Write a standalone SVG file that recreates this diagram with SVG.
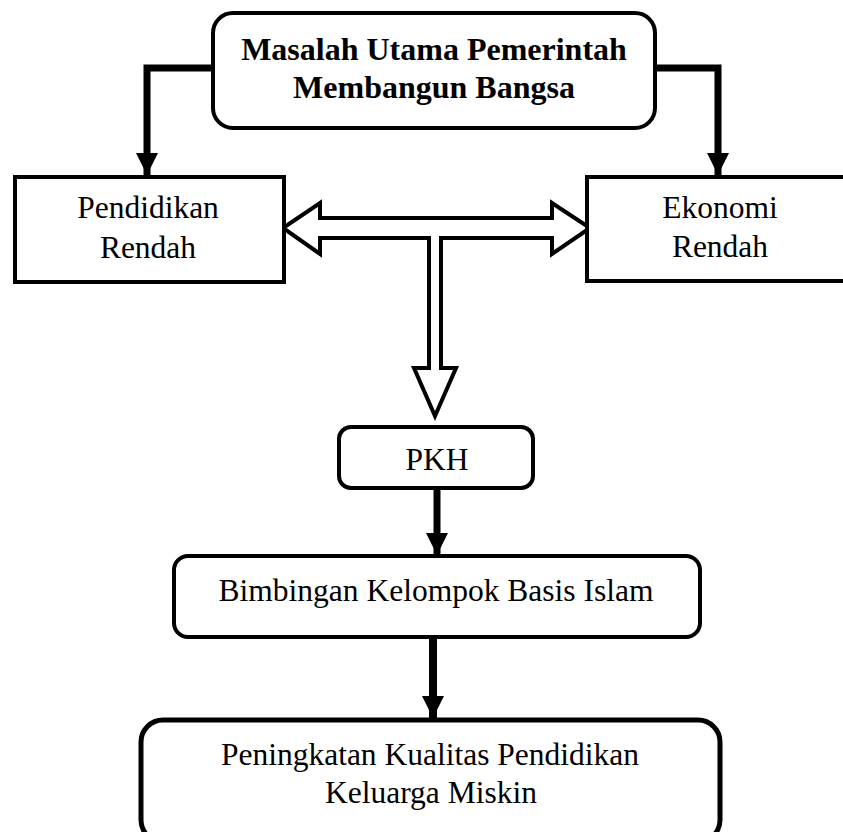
<svg xmlns="http://www.w3.org/2000/svg" width="843" height="832" viewBox="0 0 843 832">
<defs>
<style>
.box{fill:#fff;stroke:#000;stroke-width:4}
.t{font-family:"Liberation Serif","Times New Roman",serif;font-size:31.5px;fill:#000;text-anchor:middle}
.b{font-weight:bold;font-size:32px}
.thick{fill:none;stroke:#000;stroke-width:7}
.hollow{fill:#fff;stroke:#000;stroke-width:4;stroke-linejoin:miter}
</style>
<marker id="ah" markerUnits="userSpaceOnUse" markerWidth="24" markerHeight="22" refX="22" refY="11" orient="auto">
<path d="M0,0 L22,11 L0,22 Z" fill="#000"/>
</marker>
</defs>
<rect width="843" height="832" fill="#fff"/>
<g id="connectors">
<path class="thick" d="M215,68 H147 V175" marker-end="url(#ah)"/>
<path class="thick" d="M653,68 H718 V175" marker-end="url(#ah)"/>
<path class="thick" d="M437,488 V555" marker-end="url(#ah)"/>
<path class="thick" style="stroke-width:8" d="M433,637 V718" marker-end="url(#ah)"/>
<path class="hollow" d="M283,228 L320,203 L320,218 L552,218 L552,203 L590,228 L552,254 L552,238 L441,238 L441,368 L456,368 L435,416 L414,368 L429,368 L429,238 L320,238 L320,254 Z"/>
</g>
<g id="masalah">
<rect class="box" x="213" y="13" width="442" height="115" rx="20"/>
<text class="t b" x="434" y="60">Masalah Utama Pemerintah</text>
<text class="t b" x="434" y="98">Membangun Bangsa</text>
</g>
<g id="pendidikan">
<rect class="box" x="15" y="177" width="269" height="105"/>
<text class="t" x="148" y="218">Pendidikan</text>
<text class="t" x="148" y="258">Rendah</text>
</g>
<g id="ekonomi">
<rect class="box" x="587" y="177" width="270" height="104"/>
<text class="t" x="720" y="218">Ekonomi</text>
<text class="t" x="720" y="257">Rendah</text>
</g>
<g id="pkh">
<rect class="box" x="339" y="427" width="194" height="61" rx="12"/>
<text class="t" x="437" y="470">PKH</text>
</g>
<g id="bimbingan">
<rect class="box" x="174" y="556" width="526" height="81" rx="14"/>
<text class="t" x="436" y="601">Bimbingan Kelompok Basis Islam</text>
</g>
<g id="peningkatan">
<rect class="box" style="stroke-width:5" x="141" y="720" width="579" height="122" rx="22"/>
<text class="t" x="430" y="765">Peningkatan Kualitas Pendidikan</text>
<text class="t" x="431" y="803">Keluarga Miskin</text>
</g>
</svg>
